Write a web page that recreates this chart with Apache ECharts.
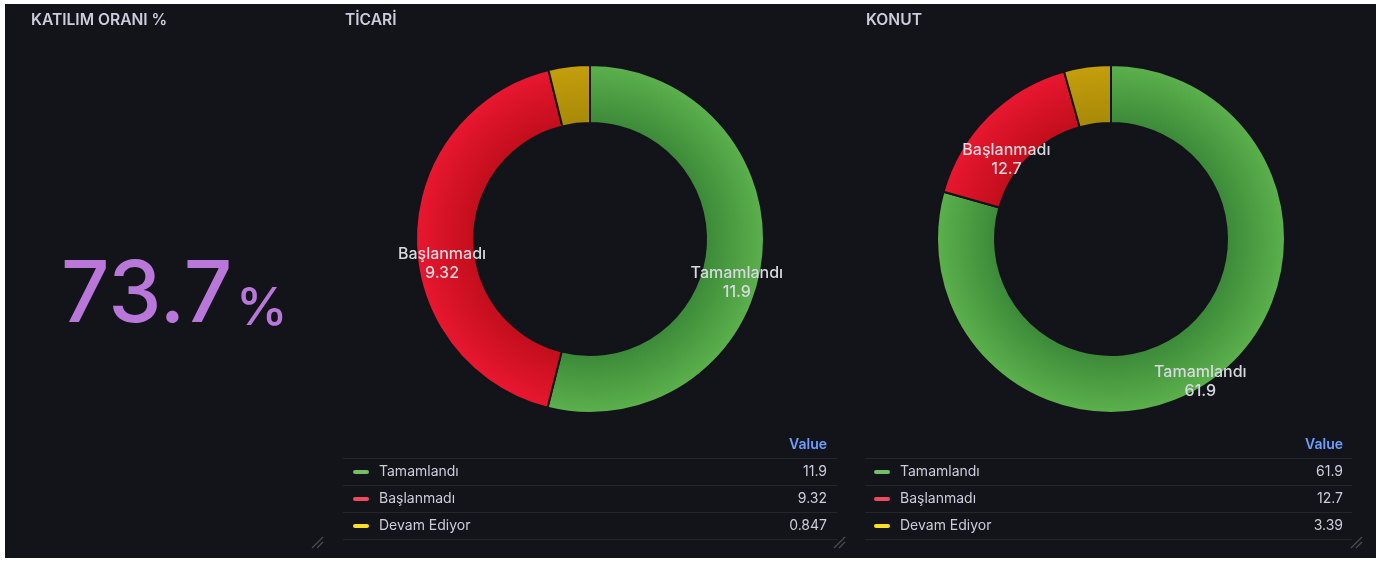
<!DOCTYPE html>
<html>
<head>
<meta charset="utf-8">
<script src="https://cdn.jsdelivr.net/npm/echarts@6/dist/echarts.min.js"></script>
<style>
html,body{margin:0;padding:0;background:#ffffff;}
#bg{position:absolute;left:5px;top:4px;width:1371px;height:554px;background:#131419;}
#chart{position:absolute;left:0;top:0;width:1389px;height:562px;}
</style>
</head>
<body>
<div id="bg"></div>
<div id="chart"></div>
<script>
// ---- data ----
const panelTitles = ['KATILIM ORANI %', 'TİCARİ', 'KONUT'];
const katilimValue = 73.7;
const katilimUnit = '%';
const categories = ['Tamamlandı', 'Başlanmadı', 'Devam Ediyor'];
const ticariValues = [11.9, 9.32, 0.847];
const konutValues = [61.9, 12.7, 3.39];
const legendHeader = 'Value';

// ---- styles ----
const FONT = 'Inter, "Noto Sans", sans-serif';
const BG = '#131419';
const TEXT = '#ccccdc';
const legendColors = ['#73BF69', '#F2495C', '#FADE2A'];
const sliceInner = ['#3C8A39', '#C20E1C', '#A88A08'];
const sliceOuter = ['#5CB04C', '#E8172F', '#C49E0C'];
const R_IN = 116, R_OUT = 174;

function grad(cx, cy, i) {
  return {
    type: 'radial', x: cx, y: cy, r: R_OUT, global: true,
    colorStops: [
      {offset: 0, color: sliceInner[i]},
      {offset: R_IN / R_OUT, color: sliceInner[i]},
      {offset: 1, color: sliceOuter[i]}
    ]
  };
}

function pieSeries(values, cx, cy) {
  return {
    type: 'pie',
    center: [cx, cy],
    radius: [R_IN, R_OUT],
    startAngle: 90,
    clockwise: true,
    avoidLabelOverlap: false,
    minShowLabelAngle: 20,
    animation: false,
    silent: true,
    itemStyle: {borderColor: BG, borderWidth: 2},
    label: {
      show: true, position: 'inside',
      formatter: p => p.name + '\n' + p.value,
      color: '#d8d9e0', fontFamily: FONT, fontSize: 16, fontWeight: 500, lineHeight: 19,
      textBorderWidth: 0
    },
    labelLayout: {dy: 25},
    labelLine: {show: false},
    data: categories.map((c, i) => ({name: c, value: values[i], itemStyle: {color: grad(cx, cy, i)}}))
  };
}

function legendTable(values, x0, x1, pillX, textX, valRight) {
  const els = [];
  els.push({type: 'text', x: valRight, y: 445, style: {text: legendHeader, fill: '#6E9FFF', font: '600 14px ' + FONT, align: 'right', verticalAlign: 'middle'}});
  const lineYs = [458, 485, 512, 539];
  lineYs.forEach(y => els.push({type: 'line', shape: {x1: x0, y1: y + 0.5, x2: x1, y2: y + 0.5}, style: {stroke: '#25262c', lineWidth: 1}}));
  categories.forEach((c, i) => {
    const y = 472 + i * 27;
    els.push({type: 'rect', shape: {x: pillX, y: y - 2, width: 16, height: 4, r: 2}, style: {fill: legendColors[i]}});
    els.push({type: 'text', x: textX, y: y, style: {text: c, fill: TEXT, font: '14px ' + FONT, align: 'left', verticalAlign: 'middle'}});
    els.push({type: 'text', x: valRight, y: y, style: {text: String(values[i]), fill: TEXT, font: '14px ' + FONT, align: 'right', verticalAlign: 'middle'}});
  });
  return els;
}

function handle(x, y) {
  return [
    {type: 'line', shape: {x1: x - 6, y1: y + 5, x2: x + 5, y2: y - 6}, style: {stroke: '#4a4b52', lineWidth: 1.2}},
    {type: 'line', shape: {x1: x - 1, y1: y + 5, x2: x + 5, y2: y - 1}, style: {stroke: '#4a4b52', lineWidth: 1.2}}
  ];
}

const titleXs = [31, 345, 866];
const graphics = [];
panelTitles.forEach((t, i) => graphics.push({type: 'text', x: titleXs[i], y: 20, style: {text: t, fill: TEXT, font: '600 15.6px ' + FONT, align: 'left', verticalAlign: 'middle'}}));
graphics.push({type: 'text', x: 61, y: 296, style: {text: String(katilimValue), fill: '#B877D9', font: '500 85px ' + FONT, align: 'left', verticalAlign: 'middle'}});
graphics.push({type: 'text', x: 236, y: 309, style: {text: katilimUnit, fill: '#B877D9', font: '500 52px ' + FONT, align: 'left', verticalAlign: 'middle'}});
graphics.push(...legendTable(ticariValues, 343, 837, 353, 379, 827));
graphics.push(...legendTable(konutValues, 865, 1352, 874, 900, 1343));
graphics.push(...handle(318, 543), ...handle(840, 543), ...handle(1357, 543));

const chart = echarts.init(document.getElementById('chart'), null, {renderer: 'canvas'});
chart.setOption({
  backgroundColor: 'transparent',
  animation: false,
  series: [pieSeries(ticariValues, 590, 239), pieSeries(konutValues, 1111, 239)],
  graphic: {elements: graphics}
});
</script>
</body>
</html>
